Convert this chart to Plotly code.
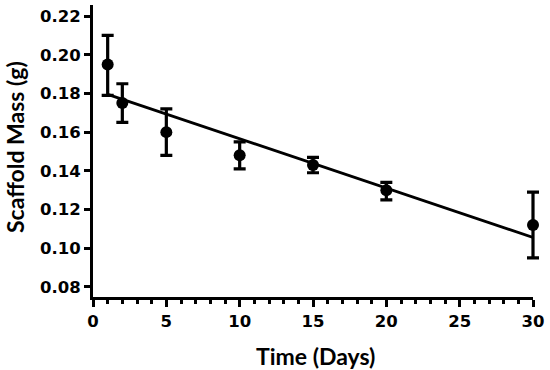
import plotly.graph_objects as go

days = [1, 2, 5, 10, 15, 20, 30]
mass = [0.195, 0.175, 0.160, 0.148, 0.143, 0.130, 0.112]
err_up = [0.015, 0.010, 0.012, 0.007, 0.004, 0.004, 0.017]
err_down = [0.016, 0.010, 0.012, 0.007, 0.004, 0.005, 0.017]
fit_x = [1, 30]
fit_y = [0.1795, 0.1056]

y_ticks = [0.08, 0.10, 0.12, 0.14, 0.16, 0.18, 0.20, 0.22]
y_labels = ["0.08", "0.10", "0.12", "0.14", "0.16", "0.18", "0.20", "0.22"]
x_ticks = [0, 5, 10, 15, 20, 25, 30]
x_title = "Time (Days)"
y_title = "Scaffold Mass (g)"

# plot area geometry (pixels)
L, R, T, B = 93, 5, 5, 73
W = 550 - L - R
axis_px = 440
x_max = 30
x2_max = x_max * W / axis_px

fig = go.Figure()
fig.add_trace(go.Scatter(x=fit_x, y=fit_y, mode="lines", xaxis="x", yaxis="y",
                         line=dict(color="black", width=2.8), cliponaxis=False,
                         showlegend=False))
fig.add_trace(go.Scatter(x=days, y=mass, mode="markers", xaxis="x2", yaxis="y",
                         marker=dict(color="black", size=12),
                         error_y=dict(type="data", symmetric=False, array=err_up,
                                      arrayminus=err_down, color="black",
                                      thickness=3.2, width=6),
                         showlegend=False))

tick_font = dict(family="DejaVu Sans", size=16.5, color="black", weight=700)
title_font = dict(family="Lato", size=23, color="black", weight=700)

fig.update_layout(
    width=550, height=370,
    margin=dict(l=L, r=R, t=T, b=B),
    paper_bgcolor="white", plot_bgcolor="rgba(0,0,0,0)",
    font=dict(family="DejaVu Sans", color="black"),
    xaxis=dict(range=[0, x_max], domain=[0, axis_px / W], anchor="y",
               tickvals=x_ticks, ticktext=[str(v) for v in x_ticks],
               automargin=False,
               showline=True, linecolor="black", linewidth=3,
               ticks="outside", ticklen=7, tickwidth=3, tickcolor="black",
               minor=dict(dtick=1, ticks="outside", ticklen=4, tickwidth=2.5,
                          tickcolor="black", showgrid=False),
               showgrid=False, zeroline=False, tickfont=tick_font),
    xaxis2=dict(range=[0, x2_max], domain=[0, 1], anchor="y", visible=False,
                showgrid=False, zeroline=False, automargin=False),
    yaxis=dict(range=[0.0748, 0.2257], tickvals=y_ticks, ticktext=y_labels,
               anchor="x", automargin=False,
               showline=True, linecolor="black", linewidth=3,
               ticks="outside", ticklen=6, tickwidth=3, tickcolor="black",
               showgrid=False, zeroline=False, tickfont=tick_font),
    annotations=[
        dict(text=x_title, xref="paper", yref="paper",
             x=(315 - L) / W, y=-(356 - (370 - B)) / (370 - T - B),
             xanchor="center", yanchor="middle", showarrow=False, font=title_font),
        dict(text=y_title, xref="paper", yref="paper", textangle=-90,
             x=(15 - L) / W, y=(370 - B - 147) / (370 - T - B),
             xanchor="center", yanchor="middle", showarrow=False, font=title_font),
    ],
)

fig.write_html("out.html", post_script="document.body.style.margin='0';",
               config={"displayModeBar": False})
